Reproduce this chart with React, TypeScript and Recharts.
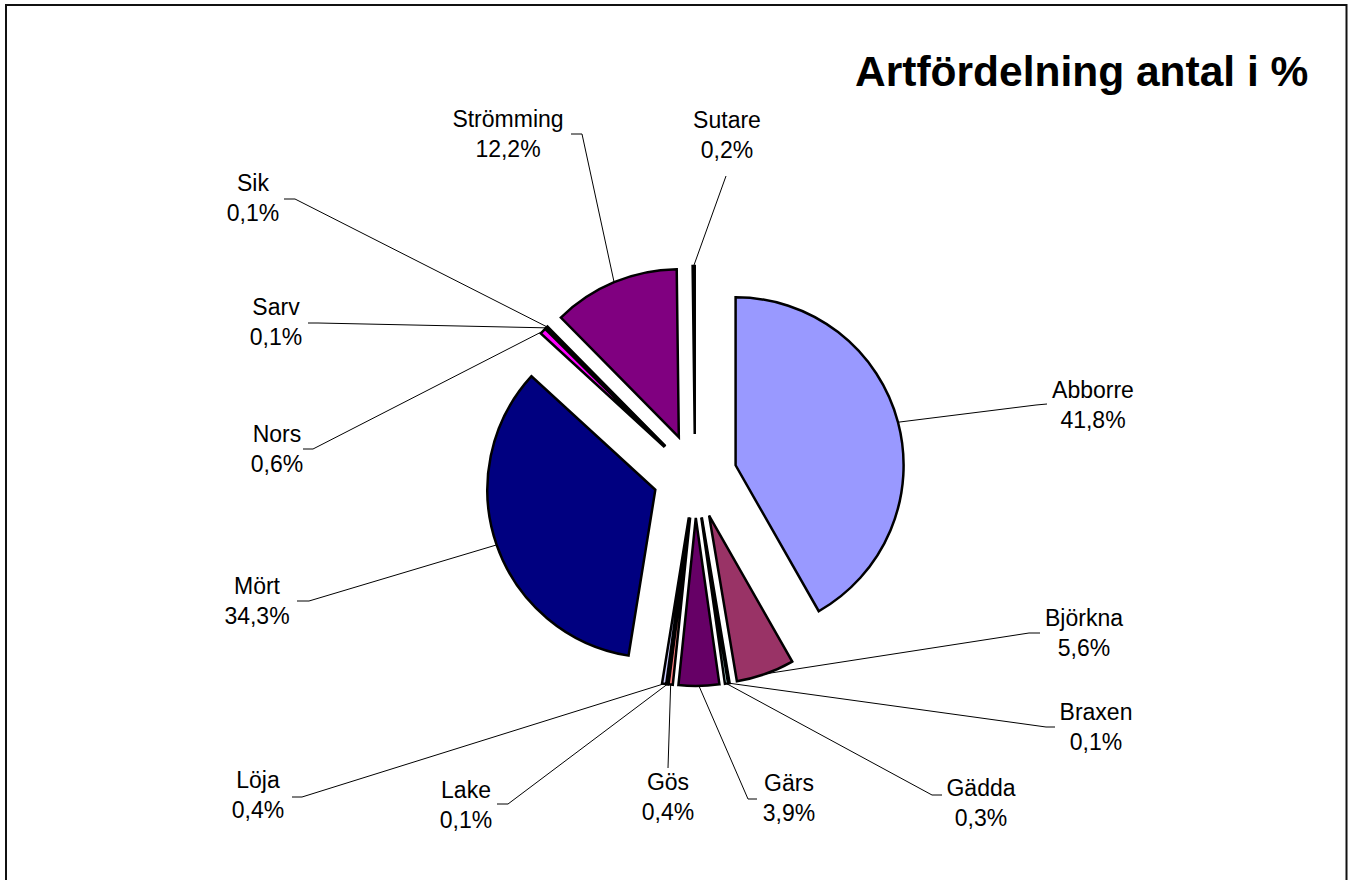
import React from 'react';
import { PieChart, Pie, Sector } from 'recharts';

// ---- data ----
const species = ['Abborre', 'Björkna', 'Braxen', 'Gädda', 'Gärs', 'Gös', 'Lake', 'Löja', 'Mört', 'Nors', 'Sarv', 'Sik', 'Strömming', 'Sutare'];
const shares = [41.8, 5.6, 0.1, 0.3, 3.9, 0.4, 0.1, 0.4, 34.3, 0.6, 0.1, 0.1, 12.2, 0.2];
const title = 'Artfördelning antal i %';

// ---- style / layout (not data) ----
const colors = ['#9999FF', '#993366', '#FFFFCC', '#CCFFFF', '#660066', '#FF8080', '#0066CC', '#CCCCFF', '#000080', '#FF00FF', '#FFFF00', '#00FFFF', '#800080', '#800000'];
// label placement: [textCenterX, firstBaselineY, elbowX, elbowY, endX, endY]
const labelLayout: number[][] = [
  [1093, 398, 1036, 405, 1047, 404],
  [1084, 626, 1029, 633, 1040, 633],
  [1096, 720, 1046, 727, 1055, 727],
  [981, 796, 932, 795, 942, 795],
  [789, 791, 748, 799, 757, 799],
  [668, 790, 668, 768, 668, 768],
  [466, 798, 508, 804, 497, 804],
  [258, 788, 302, 797, 292, 797],
  [257, 594, 309, 601, 297, 601],
  [277, 442, 313, 449, 303, 449],
  [276, 315, 318, 323, 308, 323],
  [253, 191, 295, 199, 284, 199],
  [508, 127, 582, 134, 571, 134],
  [727, 128, 726, 176, 726, 176],
];

const EXPLODE = 42;
const RAD = Math.PI / 180;
const FONT = '"Liberation Sans", Arial, sans-serif';

const data = species.map((name, i) => ({ name, value: shares[i] }));

const fmt = (v: number) => v.toFixed(1).replace('.', ',') + '%';

function renderSlice(props: any) {
  const { cx, cy, outerRadius, startAngle, endAngle, midAngle, index } = props;
  const dx = EXPLODE * Math.cos(-midAngle * RAD);
  const dy = EXPLODE * Math.sin(-midAngle * RAD);
  return (
    <Sector
      cx={cx + dx}
      cy={cy + dy}
      innerRadius={0}
      outerRadius={outerRadius}
      startAngle={startAngle}
      endAngle={endAngle}
      fill={colors[index]}
      stroke="#000"
      strokeWidth={2.5}
      strokeLinejoin="miter"
    />
  );
}

function renderLabel(props: any) {
  const { cx, cy, outerRadius, midAngle, index, value, name } = props;
  const r = outerRadius + EXPLODE;
  const px = cx + r * Math.cos(-midAngle * RAD);
  const py = cy + r * Math.sin(-midAngle * RAD);
  const [tx, ty, ex, ey, fx, fy] = labelLayout[index];
  return (
    <g>
      <polyline points={`${px},${py} ${ex},${ey} ${fx},${fy}`} fill="none" stroke="#000" strokeWidth={1} />
      <text x={tx} y={ty} textAnchor="middle" fontFamily={FONT} fontSize={23} fill="#000">
        <tspan x={tx}>{name ?? species[index]}</tspan>
        <tspan x={tx} dy={30}>{fmt(value ?? shares[index])}</tspan>
      </text>
    </g>
  );
}

export default function App() {
  return (
    <div style={{ position: 'absolute', left: 0, top: 0, width: 1352, height: 880, overflow: 'hidden', background: '#fff' }}>
      <PieChart width={1352} height={880} margin={{ top: 0, right: 0, bottom: 0, left: 0 }}>
        <Pie
          data={data}
          dataKey="value"
          nameKey="name"
          cx={695}
          cy={476}
          innerRadius={0}
          outerRadius={168}
          startAngle={90}
          endAngle={-270}
          fill="none"
          stroke="none"
          label={renderSlice}
          labelLine={false}
          isAnimationActive={false}
        />
        <Pie
          data={data}
          dataKey="value"
          nameKey="name"
          cx={695}
          cy={476}
          innerRadius={0}
          outerRadius={168}
          startAngle={90}
          endAngle={-270}
          fill="none"
          stroke="none"
          label={renderLabel}
          labelLine={false}
          isAnimationActive={false}
        />
      </PieChart>
      <svg width={1352} height={880} style={{ position: 'absolute', left: 0, top: 0, pointerEvents: 'none' }}>
        <rect x={6} y={5} width={1340.5} height={900} fill="none" stroke="#111" strokeWidth={2} />
        <text x={855} y={86} fontFamily={FONT} fontWeight="bold" fontSize={42.5} fill="#000">{title}</text>
      </svg>
    </div>
  );
}
